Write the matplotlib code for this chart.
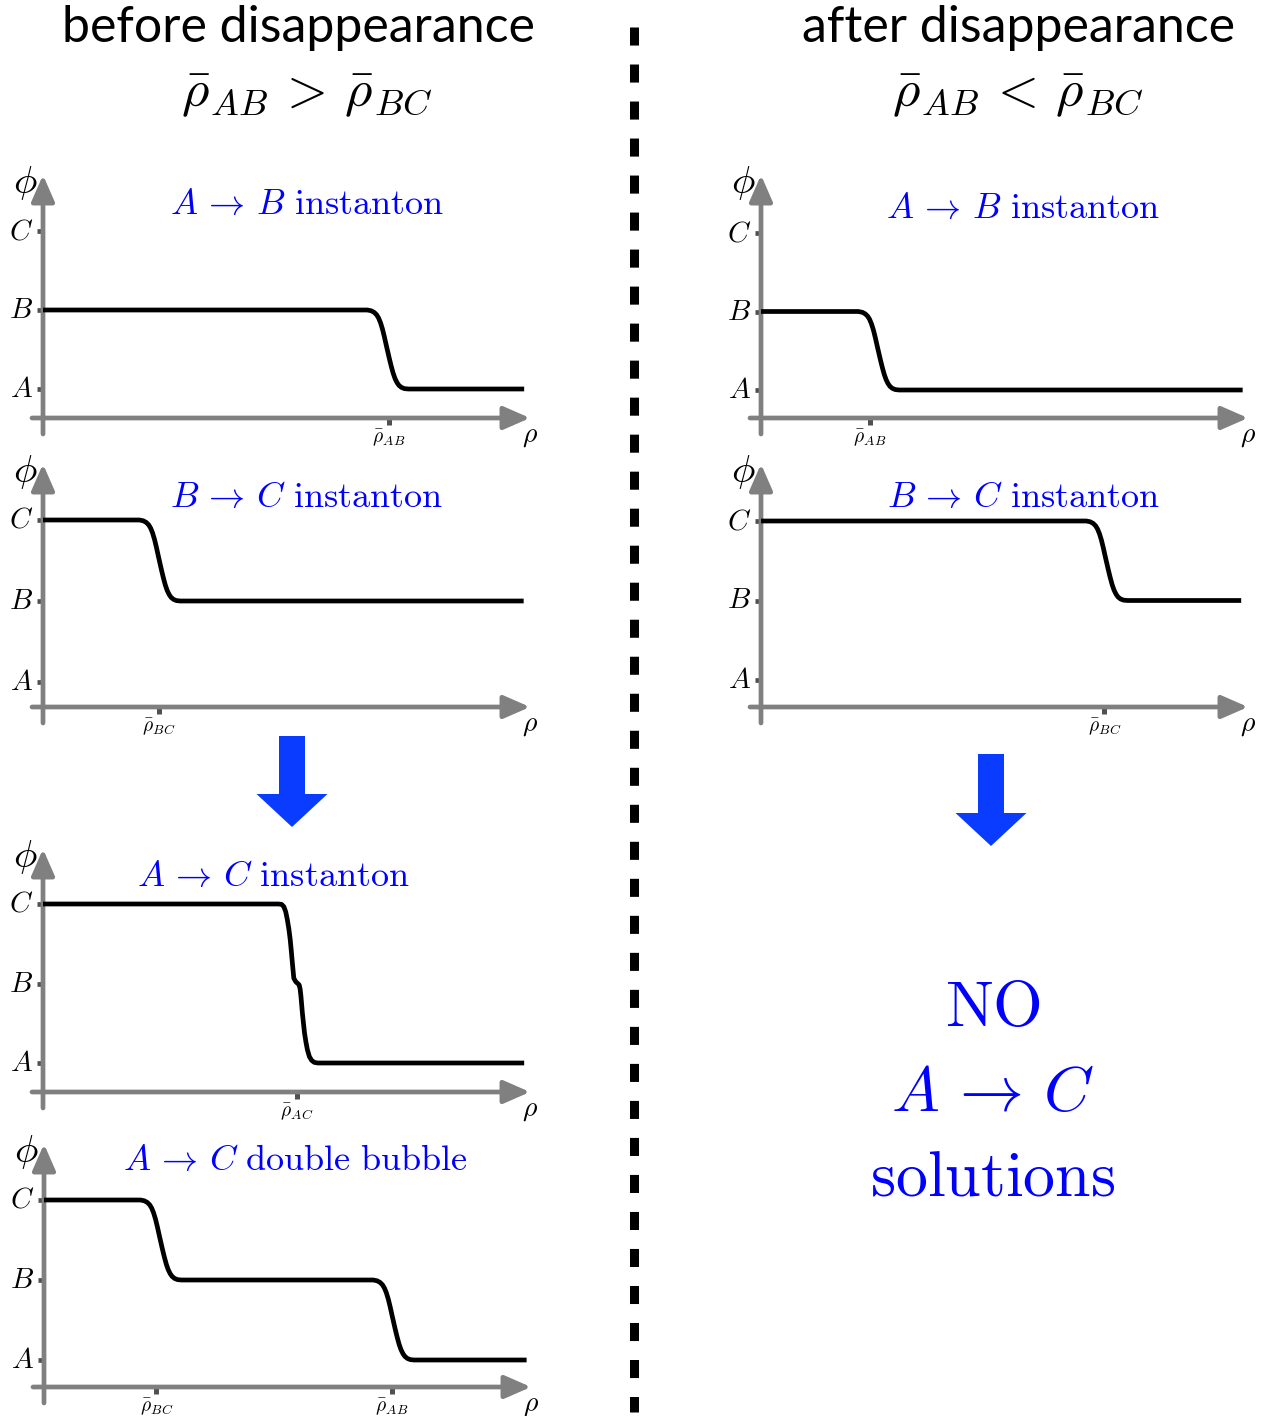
import numpy as np
import matplotlib.pyplot as plt
import matplotlib.patches as mpatches

plt.rcParams['mathtext.fontset'] = 'cm'

W, H = 1266, 1416
BLUE = '#0000ff'
ARROW_BLUE = '#0a3cff'
AXIS_GRAY = '#808080'
TICK_GRAY = '#505050'

# ---- data (rho in arbitrary units, axis arrow at rho = 10; phi: A=1, B=2, C=3)
level_names = [r'$A$', r'$B$', r'$C$']
level_values = [1, 2, 3]

wall_drho = [0.00, 0.08, 0.14, 0.19, 0.23, 0.27, 0.31, 0.35, 0.39, 0.42, 0.45, 0.49,
             0.53, 0.57, 0.61, 0.65, 0.70, 0.76, 0.84]
wall_frac = [0.00, 0.01, 0.03, 0.06, 0.10, 0.16, 0.24, 0.34, 0.45, 0.53, 0.61, 0.71,
             0.80, 0.87, 0.92, 0.955, 0.98, 0.995, 1.00]

panel_titles = [r'$A\,\rightarrow\,B\ \mathrm{instanton}$',
                r'$B\,\rightarrow\,C\ \mathrm{instanton}$',
                r'$A\,\rightarrow\,C\ \mathrm{instanton}$',
                r'$A\,\rightarrow\,C\ \mathrm{double\ bubble}$',
                r'$A\,\rightarrow\,B\ \mathrm{instanton}$',
                r'$B\,\rightarrow\,C\ \mathrm{instanton}$']
start_levels = [2, 3, 3, 3, 2, 3]
# (wall start rho, level after the wall)
walls = [[(6.66, 1)],
         [(1.98, 2)],
         None,
         [(1.98, 2), (6.76, 1)],
         [(2.00, 1)],
         [(6.68, 2)]]
rho_ends = [9.88, 9.87, 9.88, 9.91, 9.89, 9.86]
rho_ticks = [[7.10], [2.38], [5.22], [2.31, 7.14], [2.24], [7.05]]
rho_tick_labels = [[r'$\bar{\rho}_{AB}$'], [r'$\bar{\rho}_{BC}$'], [r'$\bar{\rho}_{AC}$'],
                   [r'$\bar{\rho}_{BC}$', r'$\bar{\rho}_{AB}$'],
                   [r'$\bar{\rho}_{AB}$'], [r'$\bar{\rho}_{BC}$']]

# A -> C instanton profile with the little kink near B
ac_rho = [0.00, 4.835, 4.90, 4.945, 4.985, 5.018, 5.050, 5.077, 5.100, 5.121, 5.150,
          5.187, 5.230, 5.260, 5.280, 5.297, 5.326, 5.350, 5.370, 5.400, 5.429,
          5.470, 5.516, 5.570, 5.641, 9.88]
ac_phi = [3.00, 3.000, 2.995, 2.967, 2.900, 2.800, 2.680, 2.548, 2.400, 2.255, 2.067,
          2.025, 2.000, 1.983, 1.930, 1.837, 1.628, 1.490, 1.377, 1.260, 1.167,
          1.080, 1.033, 1.008, 1.000, 1.00]

# ---- layout (pixels from top-left): axis origin x, axis y, y of level A, y of level C, title pos
layout = [
    dict(ox=43, oy=418, ya=389, yc=231, title=(5.42, 3.34)),
    dict(ox=43, oy=707, ya=682, yc=520, title=(5.42, 3.28)),
    dict(ox=43, oy=1092, ya=1063, yc=904, title=(4.72, 3.35)),
    dict(ox=44, oy=1387, ya=1360, yc=1200, title=(5.17, 3.50)),
    dict(ox=761, oy=418, ya=390, yc=233, title=(5.38, 3.32)),
    dict(ox=761, oy=707, ya=680, yc=521, title=(5.38, 3.30)),
]
AX_W, AX_H = 487, 243
PX_PER_RHO = AX_W / 10.0


def build_profile(start, wall_list, end):
    rho, phi = [0.0], [start]
    level = start
    for r0, new_level in wall_list:
        for d, f in zip(wall_drho, wall_frac):
            rho.append(r0 + d)
            phi.append(level + (new_level - level) * f)
        level = new_level
    rho.append(end)
    phi.append(level)
    return rho, phi


fig = plt.figure(figsize=(W / 100, H / 100), dpi=100)

for i, lay in enumerate(layout):
    unit = (lay['ya'] - lay['yc']) / 2.0
    phi0 = 1 - (lay['oy'] - lay['ya']) / unit
    phi_top = phi0 + AX_H / unit
    ax = fig.add_axes([lay['ox'] / W, (H - lay['oy']) / H, AX_W / W, AX_H / H])
    ax.set_xlim(0, 10)
    ax.set_ylim(phi0, phi_top)
    ax.axis('off')

    arrow = dict(arrowstyle='-|>,head_length=1.6,head_width=0.7', lw=3.4,
                 color=AXIS_GRAY, shrinkA=0, shrinkB=0, mutation_scale=10)
    ax.annotate('', xy=(0, phi_top), xytext=(0, phi0 - 16 / unit),
                arrowprops=arrow, annotation_clip=False)
    ax.annotate('', xy=(10, phi0), xytext=(-11 / PX_PER_RHO, phi0),
                arrowprops=arrow, annotation_clip=False)
    ax.plot([0], [phi0], marker='s', ms=3.4, color='#5a5a5a', mew=0, clip_on=False)

    # level ticks on the phi axis
    for name, val in zip(level_names, level_values):
        ax.plot([-0.13, -0.01], [val, val], color=TICK_GRAY, lw=3.4,
                solid_capstyle='butt', clip_on=False)
        ax.annotate(name, xy=(0, val), xytext=(-7, 0), textcoords='offset points',
                    ha='right', va='center', fontsize=21, annotation_clip=False)

    # rho ticks
    for r, lab in zip(rho_ticks[i], rho_tick_labels[i]):
        ax.plot([r, r], [phi0, phi0 - 7 / unit], color=TICK_GRAY, lw=3.6,
                solid_capstyle='butt', clip_on=False)
        ax.annotate(lab, xy=(r, phi0), xytext=(0, -14), textcoords='offset points',
                    ha='center', va='center', fontsize=14, annotation_clip=False)

    ax.annotate(r'$\phi$', xy=(0, phi_top), xytext=(-13, -6), textcoords='offset points',
                ha='center', va='center', fontsize=28, annotation_clip=False)
    ax.annotate(r'$\rho$', xy=(10, phi0), xytext=(0, -12), textcoords='offset points',
                ha='center', va='center', fontsize=20, annotation_clip=False)

    if walls[i] is None:
        rho, phi = ac_rho, ac_phi
    else:
        rho, phi = build_profile(start_levels[i], walls[i], rho_ends[i])
    ax.plot(rho, phi, color='black', lw=3.4, solid_joinstyle='round',
            solid_capstyle='butt', clip_on=False, zorder=3)

    ax.text(lay['title'][0], lay['title'][1], panel_titles[i], color=BLUE,
            fontsize=26, ha='center', va='center')

# ---- overlay: column headings, divider, block arrows, conclusion
ov = fig.add_axes([0, 0, 1, 1])
ov.set_xlim(0, W)
ov.set_ylim(H, 0)
ov.axis('off')

ov.text(298, 28, 'before disappearance', family='Lato', fontsize=36, ha='center', va='center')
ov.text(307, 93, r'$\bar{\rho}_{AB}\,>\,\bar{\rho}_{BC}$', fontsize=38, ha='center', va='center')
ov.text(1018, 28, 'after disappearance', family='Lato', fontsize=36, ha='center', va='center')
ov.text(1018, 93, r'$\bar{\rho}_{AB}\,<\,\bar{\rho}_{BC}$', fontsize=38, ha='center', va='center')

ov.plot([633.5, 633.5], [27, 1412], color='black', lw=6.5,
        linestyle=(0, (2.0, 2.1)), dash_capstyle='butt')

for x0, y0, y1 in [(292, 736, 827), (991, 754, 846)]:
    ov.add_patch(mpatches.FancyArrow(x0, y0, 0, y1 - y0, width=26, head_width=71,
                                     head_length=33, length_includes_head=True,
                                     color=ARROW_BLUE, lw=0))

ov.text(993, 1008, r'$\mathrm{NO}$', color=BLUE, fontsize=46, ha='center', va='center')
ov.text(993, 1093, r'$A\,\rightarrow\,C$', color=BLUE, fontsize=46, ha='center', va='center')
ov.text(993, 1178, r'$\mathrm{solutions}$', color=BLUE, fontsize=46, ha='center', va='center')

fig.savefig('out.png', dpi=100)
